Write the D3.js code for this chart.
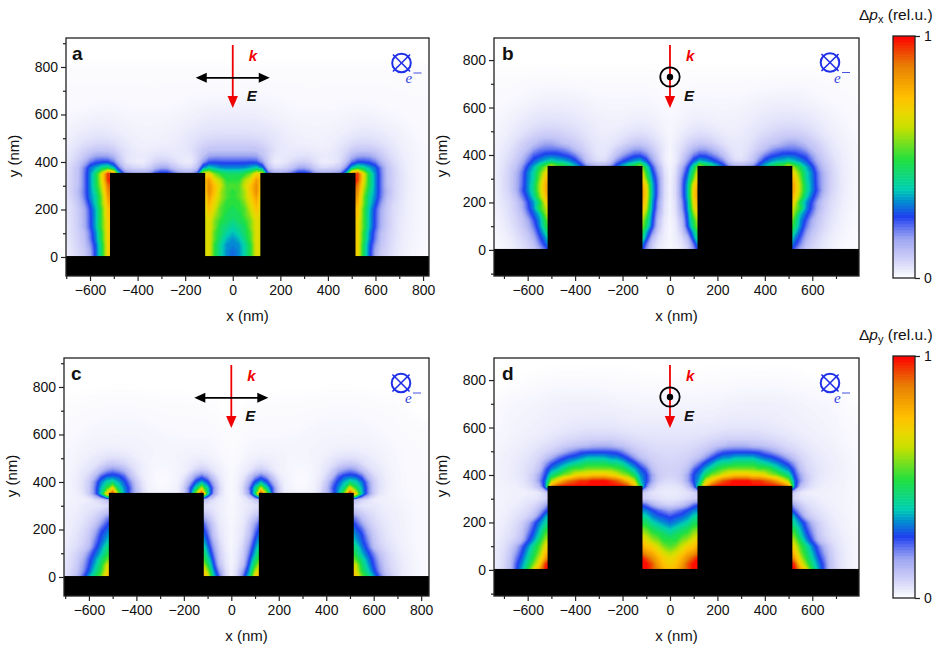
<!DOCTYPE html>
<html><head><meta charset="utf-8">
<script src="https://cdn.jsdelivr.net/npm/d3@7/dist/d3.min.js"></script>
<style>
html,body{margin:0;padding:0;background:#fff}
svg{display:block}
text{font-family:"Liberation Sans",Arial,sans-serif;fill:#111}
</style></head><body><svg id="fig" width="943" height="652"></svg>
<script>
// Momentum-transfer maps above a pair of nanostructures on a substrate.
// Each row runs from x = 0 to x = 825 nm in 25 nm steps (gap | ridge | outside)
// and rows go from y = 925 nm down to y = 0 in 25 nm steps. The maps are mirror
// symmetric about x = 0. 0-9 are 0.00-0.09, a-z are 0.10-1.00.
const zero = "00000 0000000000000000 0000000000000";
const one = "11111 1111111111111111 1111111111111";
const pxParallel = [zero,zero,zero,zero,zero,one,one,one,one,one,one,
"22222 2222111111111111 1111111111111",
"33333 2222211111111222 2221111111111",
"33333 3322222222222222 2222221111111",
"44444 3332222222222223 3333222221111",
"44444 4433322222222223 3333332221111",
"55555 5443332222222333 4444333221111",
"66666 6554433222222334 5555443322211",
"88888 7654433333334456 6665543322211",
"aaaaa 9854333333334458 9998764332211",
"ccccc a63333444333347b cccb864332211",
"eeeee c51135676411239d eeedb85432211",
"ggghi g8567accb75678ch kjhgda7432211",
"kklnr qa779ceed9779afv yqkgda7532211",
"lloqu sssssssssssssssz yqkgda7532211",
"mmpsv qqqqqqqqqqqqqqqy wpkgda7532211",
"lmosv qqqqqqqqqqqqqqqx vojgdb7432211",
"lmoru pppppppppppppppw unigda7432211",
"llnqt pppppppppppppppv tnifc95432221",
"klmps pppppppppppppppt smheb85432211",
"kkmor pppppppppppppppt smheb85432211",
"jklnq ppppppppppppppps rmheb85332211",
"ijknq ppppppppppppppps rmheb85332211",
"hikmq ppppppppppppppps rlgda75332211",
"ghjmq ppppppppppppppps rlgda75332211",
"ggilq ppppppppppppppps rkfc975322211",
"fgilq ppppppppppppppps rkfb864322111",
"fgilq ppppppppppppppps rkfb864322111"];

const pxPerpendicular = [zero,zero,zero,zero,zero,zero,zero,
"00111 1111111111111111 1111111111100",
"01111 1111111111111111 1111111111100",
"01111 1111111111111111 1111111111110",
"01111 1111111111111122 2211111111111",
"01111 1111111112222222 2222111111111",
"01222 2222222222333333 3322211111111",
"01222 2222222223333333 3332222111111",
"02222 2222222223334444 4443332221111",
"02233 3322222333445555 5544332221111",
"02344 4433333334455566 6655433221111",
"02345 5543333344566777 7765433222111",
"02356 6654333444677899 9987543322211",
"03568 9875433345789abc cba9864332211",
"0358b ccba7433468acddd ddca864332211",
"026bd eedca63358bdeeff feeca75432211",
"027cf hgfed84469dfghhi hgfdb86432211",
"03bej pmkhea547aehkmnq nkhfca7532211",
"03cfl ssssssssssssssss qmigdb7532211",
"04dgn tttttttttttttttu snigdb7532211",
"04dhq vvvvvvvvvvvvvvvv tojgdb7532211",
"04dhr wwwwwwwwwwwwwwww tojgeb7532211",
"04dhr wwwwwwwwwwwwwwww snifda6532211",
"03cgq vvvvvvvvvvvvvvvv qkgeb85432211",
"03cgp uuuuuuuuuuuuuuut olgeb85432111",
"03bfn ssssssssssssssss nhfda75322111",
"02afl qqqqqqqqqqqqqqqq lgeb964322111",
"028fk pppppppppppppppo kgdb864322111",
"026dh nnnnnnnnnnnnnnnn ifca754321111",
"024ag lllllllllllllllk geb8643221111",
"0237d iiiiiiiiiiiiiiii fda7532211111",
"0125c gggggggggggggggg db86432111000"];

const pyParallel = [zero,zero,zero,zero,zero,zero,
"00000 0000000000111111 1100000000000",
"00000 0111111111111111 1111111000000",
"00111 1111111111111111 1111111110000",
"00111 1111111111111111 1111111111000",
"00111 1111111111111111 1111111111000",
"01111 1111111111222222 2211111111110",
"01111 1111111122222222 2222111111111",
"01111 1111111222222222 2222211111111",
"01122 2222222222222222 2222221111111",
"01122 2222222222222222 2222222111111",
"01222 2222222222222333 3333222111111",
"01222 2333222222333444 4333322211111",
"01223 4322222222234689 8533222111111",
"01225 7521111111237bcd ca63322211111",
"0127c ec7211111125aeff fea6332211111",
"013bf hfb411111138dfhj igd7432211111",
"014di pie61111114aegjq lhd7432211111",
"014cj zoe61111115behnz rie8322111111",
"01223 3333333333333332 2111112222111",
"02234 4444444444444447 4333333222111",
"02246 888888888888888a a754433322111",
"0225a ddddddddddddddde da75433322111",
"0227c fffffffffffffffg ec86433322111",
"0238d gggggggggggggggh feb7543322111",
"0239e hhhhhhhhhhhhhhhi gfc8643322111",
"024bf iiiiiiiiiiiiiiij hfd9643322111",
"025cg kkkkkkkkkkkkkkkk jgea754322111",
"036dh mmmmmmmmmmmmmmmm khfda75432211",
"037ej nnnnnnnnnnnnnnnn mjgeb75432211",
"039fl qqqqqqqqqqqqqqqr pkhec85432211",
"04cgo ssssssssssssssst qlifc96432211",
"05eir uuuuuuuuuuuuuuuu snkheb8532211"];

const pyPerpendicular = [zero,zero,zero,zero,
"00000 1111111111111111 1100000000000",
"11111 1111111111111111 1111000000000",
"11111 1111111111111111 1111111000000",
"11111 1111112222222222 1111111110000",
"22222 2222222222222222 2222111110000",
"22222 2222233333333333 2222222111100",
"22222 2223333333333333 3322222211110",
"33333 3333333333333333 2222222111111",
"33333 3333444444443333 3322222211111",
"44444 4444444444444433 3332222211111",
"44444 4444555555544443 3333322221111",
"55555 5566777777766554 4333322221111",
"66666 6789abbbbaa98765 5443332221111",
"66667 89bdeeeeeeedcb97 6544333222111",
"77778 acefgghhhhgffedb 9655443322211",
"7778b dfgijjkkkkjihgfe c854433322211",
"888ae fhjlmnnnnnmmljhg e965443322111",
"888cf gknoqrsssrrqonlj ec85544332211",
"667cf hpsvxyzzzyyxwuro fd85443322211",
"3348d ltyzzzzzzzzzzzyv ga74332222111",
"22333 3333333333333333 2111111222211",
"33445 5555555555555556 5433333222211",
"568be ffffffffffffffff b854433322111",
"cdefg gggggggggggggggf eb75433222111",
"effgi jjjjjjjjjjjjjjji hd96543322111",
"fghik kkkkkkkkkkkkkkkj igeb754332211",
"hijkm nnnnnnnnnnnnnnnl khec864332211",
"jklmo pppppppppppppppn mifd964332211",
"llnoq sssssssssssssssp okgea75432211",
"mnprs uuuuuuuuuuuuuuus qmjgeb7433211",
"oprtu wwwwwwwwwwwwwwwu snkhec8533211",
"qrtvx zzzzzzzzzzzzzzzx uplifd9533211",
"rsuxz zzzzzzzzzzzzzzzz yrnjgea632211",
"stvxz zzzzzzzzzzzzzzzz zuqlhea632211"];

// Sample spacing of the maps, nm
const stepX = 25, stepY = 25;
// Ridge and substrate outlines, nm
const ridges = [[-516,-116],[116,516]];
const ridgeTop = 354, substrateTop = 4;
// Colour map
const colorStops = [0,.08,.16,.2,.255,.32,.37,.49,.625,.68,.75,.875,.94,1];
const colorValues = ["#ffffff","#d0d0f8","#a0a8f0","#7080f0","#2040f0","#0090d0","#00d0b0","#20e040","#c8e000","#e8d800","#ffc000","#e88000","#f04000","#ff0000"];

const xTicks = [-600,-400,-200,0,200,400,600,800];
const xTicksNarrow = [-600,-400,-200,0,200,400,600];
const xMinor = [-700,-500,-300,-100,100,300,500,700];
const yTicks = [0,200,400,600,800];
const yMinor = [100,300,500,700,900,-100];

const color = d3.scaleLinear().domain(colorStops).range(colorValues).clamp(true);
const decode = c => c >= "a" ? .10 + (c.charCodeAt(0) - 97) * .036 : +c / 100;
const unit = t => Math.max(0,Math.min(1,t));

function mirrored(rows){
  const half = rows.map(r => Array.from(r.replace(/ /g,"")).map(decode));
  const width = half[0].length;
  const values = [];
  half.forEach(r => {
    const row = r.slice(0,width);
    while(row.length < width) row.push(row[row.length-1]);
    for(let i = width-1; i > 0; i--) values.push(row[i]);
    row.forEach(v => values.push(v));
  });
  const nx = 2*width-1, ny = half.length;
  // Ease the sampling steps out of the blue rims and faint halo; bright lobes stay as read
  const fine = d3.blur2({data:Float64Array.from(values),width:nx,height:ny},.06).data;
  const wide = d3.blur2({data:Float64Array.from(values),width:nx,height:ny},1).data;
  const smooth = values.map((v,i) => {
    const t = unit((v-.25)/.2), m = fine[i]*(1-t)+v*t;
    const u = unit((m-.04)/.08);
    return m*u + Math.max(m-.01,Math.min(m+.01,wide[i]))*(1-u);
  });
  return {values:smooth, nx, ny, half: width-1};
}

const thresholds = d3.range(.0025,.1,.0025).concat(d3.range(.1,1.001,.012));
const svg = d3.select("#fig");
const defs = svg.append("defs");

const panels = [
 {id:"a",rows:pxParallel,     frame:[66,429,38,276],  xd:[-701,825],yd:[-80,922], ticks:xTicks,      pol:"h", lx:72, cross:[401.5,63]},
 {id:"b",rows:pxPerpendicular,frame:[494,859,38,276], xd:[-742,797],yd:[-110,893],ticks:xTicksNarrow,pol:"v", lx:502,cross:[830,62.5]},
 {id:"c",rows:pyParallel,     frame:[64,429,358,596], xd:[-705,833],yd:[-80,922], ticks:xTicks,      pol:"h", lx:71, cross:[401,383]},
 {id:"d",rows:pyPerpendicular,frame:[494,859,358,596],xd:[-742,797],yd:[-110,893],ticks:xTicksNarrow,pol:"v", lx:502,cross:[830,383]}
];

panels.forEach(p => {
  const [x0,x1,y0,y1] = p.frame;
  const x = d3.scaleLinear().domain(p.xd).range([x0,x1]);
  const y = d3.scaleLinear().domain(p.yd).range([y1,y0]);
  const g = svg.append("g");
  defs.append("clipPath").attr("id","clip-"+p.id).append("rect")
    .attr("x",x0).attr("y",y0).attr("width",x1-x0).attr("height",y1-y0);
  const plot = g.append("g").attr("clip-path",`url(#clip-${p.id})`);
  plot.append("rect").attr("x",x0).attr("y",y0).attr("width",x1-x0).attr("height",y1-y0).attr("fill","#fff");

  // Filled iso-bands of the map, painted from low to high
  const f = mirrored(p.rows);
  const topNm = (f.ny-1)*stepY;
  const gridPath = d3.geoPath(d3.geoTransform({point(gx,gy){
    this.stream.point(x((gx-.5-f.half)*stepX), y(topNm-(gy-.5)*stepY));
  }}));
  const bands = d3.contours().size([f.nx,f.ny]).thresholds(thresholds)(f.values);
  plot.selectAll("path.band").data(bands).join("path").attr("class","band")
    .attr("d",gridPath).attr("fill",d => color(d.value));

  // Ridges and substrate
  plot.selectAll("rect.ridge").data(ridges).join("rect").attr("class","ridge")
    .attr("x",d => x(d[0])).attr("width",d => x(d[1])-x(d[0]))
    .attr("y",y(ridgeTop)).attr("height",y(0)-y(ridgeTop)).attr("fill","#000");
  plot.append("rect").attr("x",x0).attr("width",x1-x0)
    .attr("y",y(substrateTop)).attr("height",y1-y(substrateTop)).attr("fill","#000");

  // Axes with major and minor ticks
  const style = s => { s.select(".domain").remove(); s.selectAll("line").attr("stroke","#222").attr("stroke-width",1.2); s.selectAll("text").attr("font-size",14).attr("fill","#111").style("font-family",'"Liberation Sans",Arial,sans-serif'); };
  g.append("g").attr("transform",`translate(0,${y1})`)
    .call(d3.axisBottom(x).tickValues(p.ticks).tickSize(5).tickPadding(4)).call(style);
  g.append("g").attr("transform",`translate(0,${y1})`)
    .call(d3.axisBottom(x).tickValues(xMinor.filter(v => v>=p.xd[0]&&v<=p.xd[1])).tickSize(3).tickFormat("")).call(style);
  g.append("g").attr("transform",`translate(${x0},0)`)
    .call(d3.axisLeft(y).tickValues(yTicks).tickSize(5).tickPadding(3)).call(style);
  g.append("g").attr("transform",`translate(${x0},0)`)
    .call(d3.axisLeft(y).tickValues(yMinor.filter(v => v>=p.yd[0]&&v<=p.yd[1])).tickSize(3).tickFormat("")).call(style);
  g.append("rect").attr("x",x0).attr("y",y0).attr("width",x1-x0).attr("height",y1-y0)
    .attr("fill","none").attr("stroke","#222").attr("stroke-width",1.3);

  g.append("text").attr("x",(x0+x1)/2).attr("y",y1+45).attr("text-anchor","middle").attr("font-size",15).text("x (nm)");
  g.append("text").attr("transform",`translate(${x0-47},${(y0+y1)/2-1}) rotate(-90)`).attr("text-anchor","middle").attr("font-size",15).text("y (nm)");
  g.append("text").attr("x",p.lx).attr("y",y0+22).attr("font-size",19).attr("font-weight","bold").text(p.id);

  // Wave-vector and polarisation symbols
  const ax = x(0);
  const head = (pts,fill) => g.append("polygon").attr("points",pts.map(q => q.join(",")).join(" ")).attr("fill",fill);
  g.append("line").attr("x1",ax).attr("x2",ax).attr("y1",y0+7).attr("y2",y0+60).attr("stroke","#f00000").attr("stroke-width",1.8);
  head([[ax-5.2,y0+58],[ax+5.2,y0+58],[ax,y0+70]],"#f00000");
  const k = g.append("text").attr("y",y0+23).attr("font-size",15).attr("font-weight","bold").attr("font-style","italic").style("fill","#f00000").text("k");
  const e = g.append("text").attr("y",y0+63).attr("font-size",15).attr("font-weight","bold").attr("font-style","italic").text("E");
  if(p.pol==="h"){
    const my = y0+39.8;
    k.attr("x",ax+16); e.attr("x",ax+14);
    g.append("line").attr("x1",ax-30).attr("x2",ax+30).attr("y1",my).attr("y2",my).attr("stroke","#000").attr("stroke-width",1.8);
    head([[ax-37,my],[ax-26,my-5],[ax-26,my+5]],"#000");
    head([[ax+37,my],[ax+26,my-5],[ax+26,my+5]],"#000");
  } else {
    const my = y0+39;
    k.attr("x",ax+16); e.attr("x",ax+14);
    g.append("circle").attr("cx",ax).attr("cy",my).attr("r",9.7).attr("fill","none").attr("stroke","#000").attr("stroke-width",1.8);
    g.append("circle").attr("cx",ax).attr("cy",my).attr("r",3.2).attr("fill","#000");
  }

  // Electron beam direction
  const [cx,cy] = p.cross, r = 9.3, blue = "#2030e8", d = r*.92;
  g.append("circle").attr("cx",cx).attr("cy",cy).attr("r",r).attr("fill","none").attr("stroke",blue).attr("stroke-width",2);
  [[-1,-1,1,1],[-1,1,1,-1]].forEach(l => g.append("line")
    .attr("x1",cx+l[0]*d).attr("y1",cy+l[1]*d).attr("x2",cx+l[2]*d).attr("y2",cy+l[3]*d)
    .attr("stroke",blue).attr("stroke-width",1.6));
  g.append("text").attr("x",cx+4).attr("y",cy+20).attr("font-size",15).attr("font-style","italic")
    .style("font-family",'"Liberation Serif",serif').style("fill","#3040e0").text("e");
  g.append("line").attr("x1",cx+12).attr("x2",cx+20).attr("y1",cy+10).attr("y2",cy+10).attr("stroke","#3040e0").attr("stroke-width",.9);
});

// Colour bars
const bars = [{top:36,bottom:278,sub:"x",labelY:20},{top:356,bottom:598,sub:"y",labelY:340}];
const steps = d3.range(0,1,1/80);
bars.forEach(b => {
  const v = d3.scaleLinear().domain([0,1]).range([b.bottom,b.top]);
  const g = svg.append("g");
  g.selectAll("rect").data(steps).join("rect").attr("x",893).attr("width",22)
    .attr("y",d => v(d+1/80)).attr("height",d => v(d)-v(d+1/80)+.6).attr("fill",d => color(d+.5/80));
  g.append("rect").attr("x",893).attr("y",b.top).attr("width",22).attr("height",b.bottom-b.top).attr("fill","none").attr("stroke","#222").attr("stroke-width",1.3);
  const ax = g.append("g").attr("transform","translate(915,0)")
    .call(d3.axisRight(v).tickValues([0,1]).tickSize(5).tickPadding(4).tickFormat(d3.format("d")));
  ax.select(".domain").remove();
  ax.selectAll("line").attr("stroke","#222").attr("stroke-width",1.2);
  ax.selectAll("text").attr("font-size",14).style("font-family",'"Liberation Sans",Arial,sans-serif').attr("fill","#111");
  const t = g.append("text").attr("x",859).attr("y",b.labelY).attr("font-size",15.5);
  t.append("tspan").text("Δ");
  t.append("tspan").attr("font-style","italic").text("p");
  t.append("tspan").attr("font-size",11).attr("dy",3).text(b.sub);
  t.append("tspan").attr("dy",-3).text(" (rel.u.)");
});
</script></body></html>
